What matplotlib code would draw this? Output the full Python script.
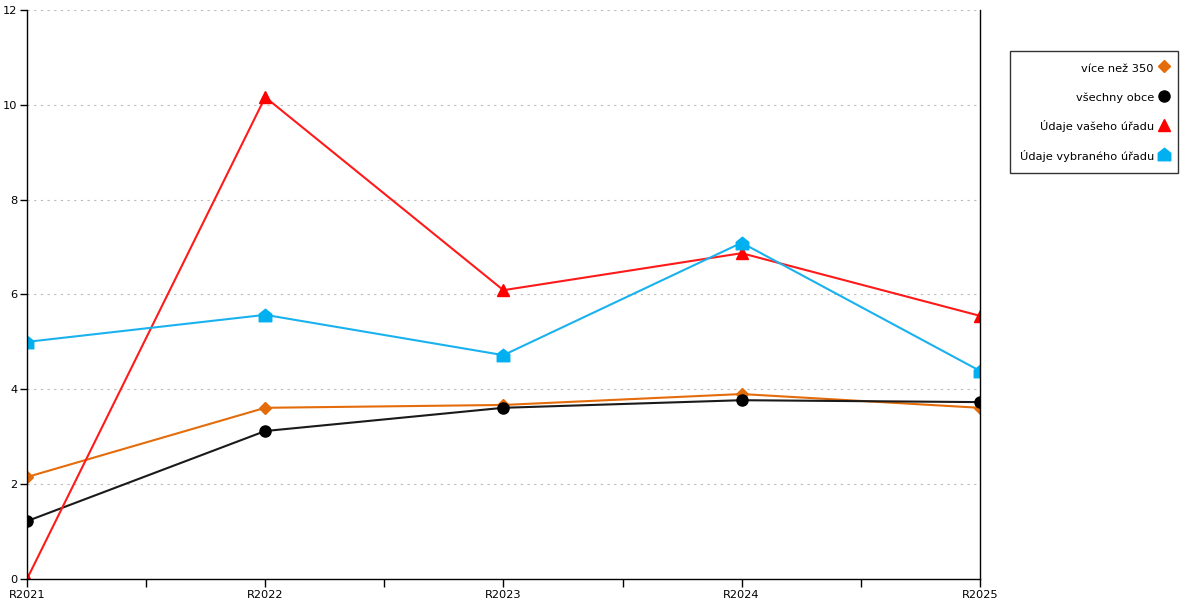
import matplotlib
matplotlib.use('Agg')
import matplotlib.pyplot as plt
from matplotlib.path import Path

# data
years = ['R2021', 'R2022', 'R2023', 'R2024', 'R2025']
vice_nez_350 = [2.15, 3.61, 3.67, 3.90, 3.61]
vsechny_obce = [1.22, 3.12, 3.61, 3.77, 3.73]
vas_urad = [0.0, 10.16, 6.09, 6.87, 5.55]
vybrany_urad = [5.00, 5.57, 4.72, 7.09, 4.39]

plt.rcParams['font.family'] = ['DejaVu Sans']
plt.rcParams['font.size'] = 8.2

# marker ve tvaru domečku
house = Path([(-1, -1), (1, -1), (1, 0.2), (0, 1), (-1, 0.2), (-1, -1)],
             [Path.MOVETO, Path.LINETO, Path.LINETO, Path.LINETO, Path.LINETO, Path.CLOSEPOLY])

fig = plt.figure(figsize=(12, 6), dpi=100)
ax = fig.add_axes([0.0225, 0.035, 0.794, 0.9485])

x = list(range(len(years)))
ax.plot(x, vice_nez_350, color='#e46c0a', lw=1.5, marker='D', ms=6, label='více než 350')
ax.plot(x, vsechny_obce, color='#1a1a1a', lw=1.5, marker='o', ms=8, mfc='black', mec='black', label='všechny obce')
ax.plot(x, vas_urad, color='#ff1a1a', lw=1.5, marker='^', ms=9, mfc='#ff0000', mec='#ff0000', label='Údaje vašeho úřadu')
ax.plot(x, vybrany_urad, color='#1ab2ee', lw=1.5, marker=house, ms=9, mfc='#00b0f0', mec='#00b0f0', label='Údaje vybraného úřadu')

ax.set_xlim(0, len(years) - 1)
ax.set_ylim(0, 12)
ax.set_xticks(x)
ax.set_xticklabels(years)
ax.set_xticks([i + 0.5 for i in x[:-1]], minor=True)
ax.tick_params(axis='x', which='both', length=6, width=1, direction='out', pad=2)
ax.set_yticks(range(0, 13, 2))
ax.tick_params(axis='y', length=5, width=1, direction='out', pad=2)

ax.grid(axis='y', linestyle=(0, (2, 4)), color='#bbbbbb', lw=0.8)
ax.set_axisbelow(True)
ax.spines['top'].set_visible(False)
for s in ['left', 'bottom', 'right']:
    ax.spines[s].set_color('black')
    ax.spines[s].set_linewidth(1)

leg = fig.legend(loc='upper left', bbox_to_anchor=(0.8417, 0.915), borderaxespad=0,
                 markerfirst=False, frameon=True, fancybox=False, edgecolor='black',
                 fontsize=8.2, labelspacing=1.29, handlelength=0.8, handleheight=1.6,
                 borderpad=0.85, handletextpad=0.45, alignment='right')
leg.get_frame().set_linewidth(1)
for t in leg.get_texts():
    t.set_ha('right')
# jen značky v legendě, bez čar
for h in leg.legend_handles:
    h.set_linestyle('None')

fig.savefig('out.png', dpi=100)
